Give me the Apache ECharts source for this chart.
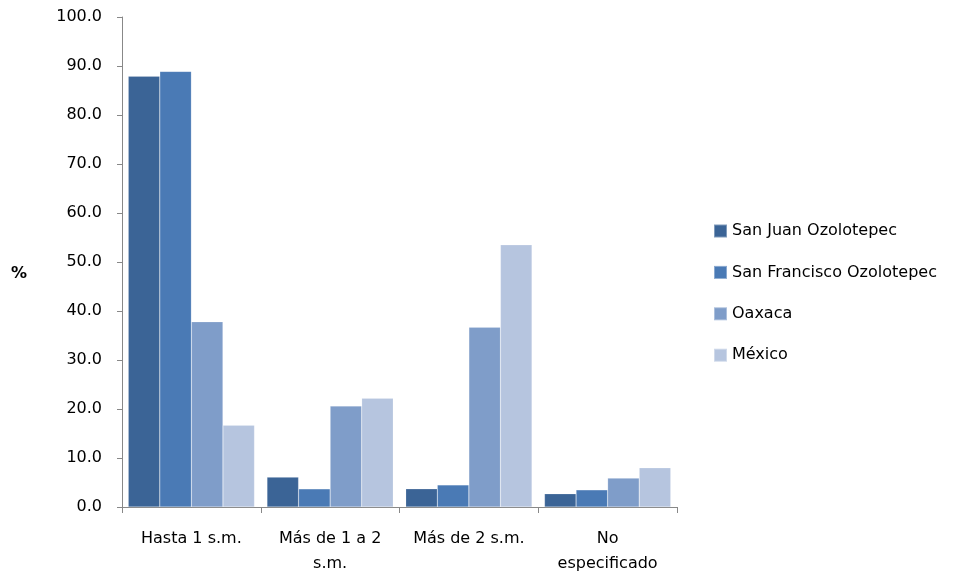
<!DOCTYPE html>
<html><head><meta charset="utf-8">
<script src="https://cdn.jsdelivr.net/npm/echarts@6/dist/echarts.min.js"></script>
<style>html,body{margin:0;padding:0;background:#fff}#c{width:969px;height:577px}</style>
</head><body><div id="c"></div>
<script>
const categories = ['Hasta 1 s.m.', 'Más de 1 a 2\ns.m.', 'Más de 2 s.m.', 'No\nespecificado'];
const seriesNames = ['San Juan Ozolotepec', 'San Francisco Ozolotepec', 'Oaxaca', 'México'];
const sanJuan = [87.9, 6.1, 3.7, 2.7];
const sanFrancisco = [88.9, 3.7, 4.5, 3.5];
const oaxaca = [37.8, 20.6, 36.7, 5.9];
const mexico = [16.7, 22.2, 53.5, 8.0];
const colors = ['#3B6496', '#4A7AB5', '#7F9DC9', '#B6C5DF'];
const font = '"DejaVu Sans", sans-serif';
const values = [sanJuan, sanFrancisco, oaxaca, mexico];
const chart = echarts.init(document.getElementById('c'));
chart.setOption({
  animation: false,
  grid: {left: 122, right: 292, top: 17, bottom: 70},
  graphic: [{type: 'text', left: 11, top: 266, style: {text: '%', fontFamily: font, fontSize: 16, fontWeight: 'bold', fill: '#000'}}],
  legend: {
    orient: 'vertical', left: 713, top: 221, itemGap: 21.4, padding: 0,
    itemWidth: 13, itemHeight: 13, icon: 'rect',
    textStyle: {fontFamily: font, fontSize: 16, lineHeight: 20, color: '#000'},
    data: seriesNames
  },
  xAxis: {
    type: 'category', data: categories,
    axisLine: {lineStyle: {color: '#888'}},
    axisTick: {show: true, length: 6, lineStyle: {color: '#888'}},
    axisLabel: {fontFamily: font, fontSize: 16, color: '#000', margin: 19, lineHeight: 25, interval: 0}
  },
  yAxis: {
    type: 'value', min: 0, max: 100, interval: 10,
    axisLine: {show: true, lineStyle: {color: '#888'}},
    axisTick: {show: true, length: 5, lineStyle: {color: '#888'}},
    splitLine: {show: false},
    axisLabel: {fontFamily: font, fontSize: 16, color: '#000', margin: 20, formatter: v => v.toFixed(1)}
  },
  series: seriesNames.map((n, i) => ({
    name: n, type: 'bar', data: values[i],
    barGap: '0%', barCategoryGap: '9%',
    itemStyle: {color: colors[i], borderColor: 'rgba(255,255,255,0.35)', borderWidth: 0.5}
  }))
});
</script></body></html>
